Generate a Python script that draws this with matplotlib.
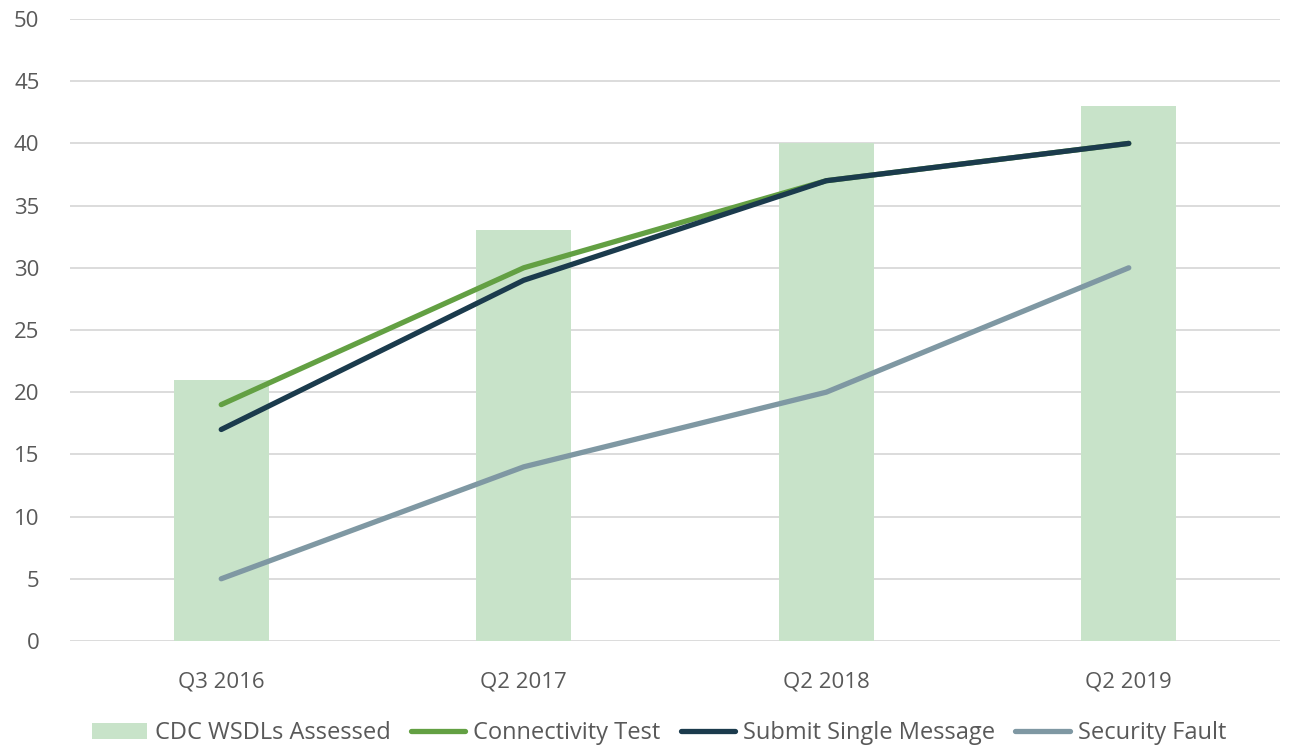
import matplotlib.pyplot as plt
import numpy as np

plt.rcParams['font.family'] = ['Open Sans', 'DejaVu Sans']

quarters = ['Q3 2016', 'Q2 2017', 'Q2 2018', 'Q2 2019']
wsdls_assessed = [21, 33, 40, 43]
connectivity_test = [19, 30, 37, 40]
submit_single = [17, 29, 37, 40]
security_fault = [5, 14, 20, 30]

x = np.arange(len(quarters))

fig = plt.figure(figsize=(12.91, 7.46), dpi=100)
ax = fig.add_axes([0.0542, 0.1408, 0.9373, 0.8337])

bars = ax.bar(x, wsdls_assessed, width=0.315, color='#c8e3c9', label='CDC WSDLs Assessed', zorder=2)
l1, = ax.plot(x, connectivity_test, color='#63a043', lw=3.8, solid_capstyle='round', label='Connectivity Test', zorder=3)
l2, = ax.plot(x, submit_single, color='#1b3b4d', lw=3.8, solid_capstyle='round', label='Submit Single Message', zorder=4)
l3, = ax.plot(x, security_fault, color='#7f98a3', lw=3.8, solid_capstyle='round', label='Security Fault', zorder=3)

ax.set_xlim(-0.5, 3.5)
ax.set_ylim(0, 50)
ax.set_yticks(range(0, 51, 5))
ax.set_xticks(x)
ax.set_xticklabels(quarters)
ax.grid(axis='y', color='#d9d9d9', lw=1.3, zorder=0)
ax.set_axisbelow(True)
for s in ax.spines.values():
    s.set_visible(False)
ax.tick_params(length=0, labelsize=16, colors='#595959')
ax.tick_params(axis='x', pad=22)
ax.tick_params(axis='y', pad=22)

handles = [bars, l1, l2, l3]
ax.legend(handles, [h.get_label() for h in handles],
          loc='upper center', bbox_to_anchor=(0.487, -0.095), ncol=4, frameon=False,
          fontsize=17, labelcolor='#595959', handlelength=2.3, columnspacing=0.85,
          handletextpad=0.35)

fig.savefig('out.png', dpi=100)
